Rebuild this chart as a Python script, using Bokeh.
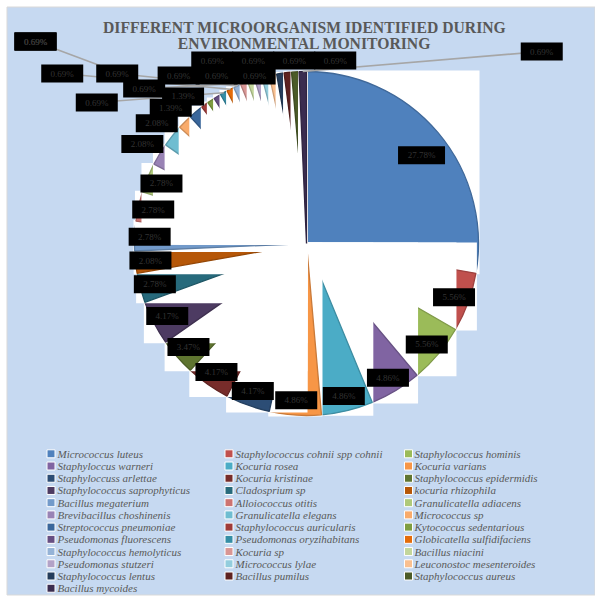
import math
import numpy as np
from bokeh.plotting import figure
from bokeh.models import Range1d
from bokeh.embed import file_html
from bokeh.resources import INLINE
from bokeh.core.properties import value

W, H = 595, 596

# ---------------- data ----------------
title_lines = ["DIFFERENT MICROORGANISM IDENTIFIED DURING", "ENVIRONMENTAL MONITORING"]

organisms = [
    "Micrococcus luteus", "Staphylococcus cohnii spp cohnii", "Staphylococcus hominis",
    "Staphyloccus warneri", "Kocuria rosea", "Kocuria varians",
    "Staphyloccuss arlettae", "Kocuria kristinae", "Staphylococcus epidermidis",
    "Staphylococcus saprophyticus", "Cladosprium sp", "kocuria rhizophila",
    "Bacillus megaterium", "Alloiococcus otitis", "Granulicatella adiacens",
    "Brevibacillus choshinenis", "Granulicatella elegans", "Micrococcus sp",
    "Streptococcus pneumoniae", "Staphylococcus auricularis", "Kytococcus sedentarious",
    "Pseudomonas fluorescens", "Pseudomonas oryzihabitans", "Globicatella sulfidifaciens",
    "Staphylococcus hemolyticus", "Kocuria sp", "Bacillus niacini",
    "Pseudomonas stutzeri", "Micrococcus lylae", "Leuconostoc mesenteroides",
    "Staphylococcus lentus", "Bacillus pumilus", "Staphylococcus aureus",
    "Bacillus mycoides",
]

counts = [40, 8, 8, 7, 7, 7, 6, 6, 5, 6, 4, 3, 4, 4, 4, 3, 3, 2, 2, 1,
          1, 1, 1, 1, 1, 1, 1, 1, 1, 1, 1, 1, 1, 1]

colors = [
    "#4F81BD", "#C0504D", "#9BBB59", "#8064A2", "#4BACC6", "#F79646",
    "#2C4D75", "#772C2A", "#5F7530", "#4D3B62", "#276A7C", "#B65708",
    "#729ACA", "#CD7371", "#AFC97A", "#9983B5", "#6FBDD1", "#F9AB6B",
    "#3A679C", "#9F3B38", "#7E9D40", "#664F83", "#358EA6", "#E46C0A",
    "#95B3D7", "#D99694", "#C3D69B", "#B3A2C7", "#93CDDD", "#FAC090",
    "#253D5B", "#5E2220", "#4B5B28", "#3B2D50",
]

# ---------------- helpers ----------------
def Y(py):
    return H - py

def darker(hexc, f=0.82):
    h = hexc.lstrip("#")
    r, g, b = (int(h[i:i + 2], 16) for i in (0, 2, 4))
    return "#%02X%02X%02X" % (int(r * f), int(g * f), int(b * f))

total = sum(counts)
pcts = [100.0 * c / total for c in counts]
labels = ["%.2f%%" % v for v in pcts]
cum = np.cumsum([0] + counts)
theta_s = 360.0 * cum[:-1] / total
theta_e = 360.0 * cum[1:] / total
n = len(counts)

p = figure(width=W, height=H, x_range=Range1d(0, W), y_range=Range1d(0, H),
           x_axis_type=None, y_axis_type=None, toolbar_location=None,
           output_backend="svg", min_border=0, outline_line_color=None,
           background_fill_color="white", border_fill_color="white")

# chart area
p.quad(left=[6.5], right=[594.5], top=[Y(6.5)], bottom=[Y(594.5)],
       fill_color="#C6D9F1", line_color="#D9D9D9", line_width=1)

# ---------------- pie (each slice over its white frame) ----------------
cx, cy, R = 306.0, 243.0, 172.0
pad = 1.0

def rim(a_deg, rad=R):
    a = math.radians(a_deg)
    return cx + rad * math.sin(a), cy - rad * math.cos(a)

for i in range(n):
    ts, te = theta_s[i], theta_e[i]
    angs = [ts, te] + [a for a in (0, 90, 180, 270, 360) if ts < a < te]
    pts = [(cx, cy)] + [rim(a) for a in angs]
    xs = [q[0] for q in pts]
    ys = [q[1] for q in pts]
    p.quad(left=[min(xs) - pad], right=[max(xs) + pad],
           top=[Y(min(ys) - pad)], bottom=[Y(max(ys) + pad)],
           fill_color="white", line_color=None)
    p.wedge(x=[cx], y=[Y(cy)], radius=R,
            start_angle=math.radians(90 - te), end_angle=math.radians(90 - ts),
            fill_color=colors[i], line_color=darker(colors[i]), line_width=1.3)

# ---------------- data labels ----------------
bis = (theta_s + theta_e) / 2.0
lx, ly = [0.0] * n, [0.0] * n
for i in range(n):
    if i == 0:
        lx[i], ly[i] = rim(bis[i] + 2.5, 145)
    elif i <= 14:
        lx[i], ly[i] = rim(bis[i], R - 15)
    elif i <= 18:
        lx[i], ly[i] = rim(bis[i], R + 20)

# small slices: labels placed in rows around the top (y, count, x offset, spacing)
rows = [(51, 1, 239, 0), (60, 4, 40, 41), (75, 3, -11, 38), (88, 1, -100, 41),
        (73, 2, -120, 55), (102, 1, -127, 41), (41, 3, -182, 0)]
tiny = list(range(n - 1, 18, -1))
k = 0
for (row_y, cap, off, gap) in rows:
    prev = None
    for j in tiny[k:k + cap]:
        want = rim(bis[j])[0] + off
        x = want if prev is None else min(want, prev - gap)
        x = max(x, 35)
        lx[j], ly[j] = x, row_y
        prev = x
    k += cap

# leader lines (one per label position)
sx0, sy0, sx1, sy1 = [], [], [], []
seen = set()
for i in range(n):
    rx, ry = rim(bis[i])
    key = (round(lx[i]), round(ly[i]))
    if math.hypot(lx[i] - rx, ly[i] - ry) > 100 and key not in seen:
        seen.add(key)
        sx0.append(lx[i]); sy0.append(Y(ly[i])); sx1.append(rx); sy1.append(Y(ry))
p.segment(x0=sx0, y0=sy0, x1=sx1, y1=sy1, line_color="#A6A6A6", line_width=1.6)

bw = [17 + 5 * len(t) for t in labels]
p.rect(x=lx, y=[Y(v) for v in ly], width=bw, height=18,
       fill_color="black", line_color=None)
p.text(x=lx, y=[Y(v) for v in ly], text=labels, text_align="center",
       text_baseline="middle", text_font=value("Liberation Serif"),
       text_font_size="9px", text_color="#333333")

# ---------------- title ----------------
p.text(x=[304, 304], y=[Y(27), Y(43)], text=title_lines, text_align="center",
       text_baseline="alphabetic", text_font=value("Liberation Serif"),
       text_font_style="bold", text_font_size="15.7px", text_color="#595959")

# ---------------- legend ----------------
sw_x = [50.5, 228.5, 408.0]
tx_x = [57.0, 235.0, 414.0]
row0, dy = 453.3, 12.22
lg_sx, lg_sy, lg_tx, lg_ty = [], [], [], []
for i in range(n):
    r_, c_ = divmod(i, 3)
    yy = row0 + dy * r_
    lg_sx.append(sw_x[c_]); lg_sy.append(Y(yy))
    lg_tx.append(tx_x[c_]); lg_ty.append(Y(yy))
p.rect(x=lg_sx, y=lg_sy, width=8, height=8, fill_color=colors,
       line_color="white", line_width=1)
p.text(x=lg_tx, y=lg_ty, text=organisms, text_align="left",
       text_baseline="middle", text_font=value("Liberation Serif"),
       text_font_style="italic", text_font_size="11px", text_color="#595959")

open("out.html", "w").write(file_html(p, INLINE))
